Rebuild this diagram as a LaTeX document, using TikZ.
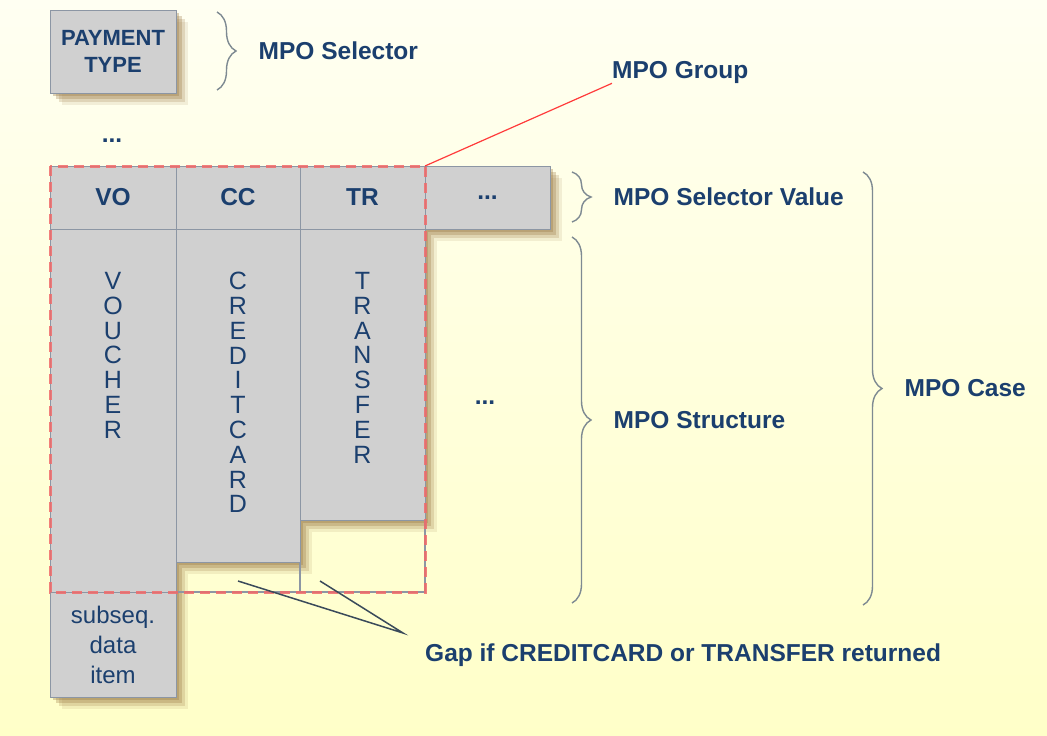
\documentclass[tikz,border=0pt]{standalone}
\usepackage{fontspec}
\setmainfont{Liberation Sans}
\usetikzlibrary{positioning,decorations.pathreplacing,shadows}
\definecolor{mpotext}{HTML}{1B3F6E}
\definecolor{cellgray}{HTML}{D0D0D0}
\definecolor{celledge}{HTML}{8C96A4}
\definecolor{bracegray}{HTML}{7E8A92}
\definecolor{groupred}{HTML}{F06A6A}
\definecolor{linkred}{HTML}{FF3B3B}
\definecolor{gapslate}{HTML}{3A4A5A}
\definecolor{bgtop}{HTML}{FFFFF2}
\definecolor{bgbottom}{HTML}{FFFFC8}
\definecolor{shadowtan}{HTML}{9C7A45}

\tikzset{
  softshadow/.style={
    drop shadow={shadow xshift=3pt, shadow yshift=-3pt, fill=shadowtan, opacity=.35},
    drop shadow={shadow xshift=6pt, shadow yshift=-6pt, fill=shadowtan, opacity=.3},
    drop shadow={shadow xshift=9pt, shadow yshift=-9pt, fill=shadowtan, opacity=.22},
    drop shadow={shadow xshift=12pt, shadow yshift=-12pt, fill=shadowtan, opacity=.12}},
  cell/.style={draw=celledge, line width=0.8pt, fill=cellgray, anchor=north west,
    inner sep=0pt, outer sep=0pt, text=mpotext, align=center,
    font=\fontsize{24.5}{28}\selectfont\bfseries, softshadow},
  vword/.style={inner sep=0pt, text=mpotext, align=center, font=\fontsize{25}{24.8}\selectfont},
  mpolabel/.style={inner sep=0pt, anchor=west, text=mpotext, font=\fontsize{24.5}{28}\selectfont\bfseries},
  brace/.style={decorate, decoration={brace, amplitude=19pt}, draw=bracegray, line width=1.4pt},
  bracetext/.style={mpolabel, midway, xshift=41pt},
  groupline/.style={draw=groupred, line width=3pt, dash pattern=on 10pt off 6pt, opacity=.85}
}

\begin{document}
\begin{tikzpicture}[x=1pt, y=-1pt]
  \shade[top color=bgtop, bottom color=bgbottom] (0,0) rectangle (1047,736);

  % selector field
  \node[cell, minimum width=126pt, minimum height=83pt,
        font=\fontsize{22}{27}\selectfont\bfseries] (pay) at (50,10) {PAYMENT\\TYPE};
  \node[mpolabel, anchor=center] (dotsup) at (112,141) {...};

  % selector values
  \node[cell, minimum width=126pt, minimum height=63pt] (vo) at (50,166) {VO};
  \node[cell, minimum width=124pt, minimum height=63pt, right=0pt of vo] (cc) {CC};
  \node[cell, minimum width=125pt, minimum height=63pt, right=0pt of cc] (tr) {TR};
  \node[cell, minimum width=125pt, minimum height=63pt, right=0pt of tr] (more) {...};

  % structures
  \node[cell, minimum width=126pt, minimum height=363pt, below=0pt of vo] (voucher) {};
  \node[cell, minimum width=124pt, minimum height=333pt, below=0pt of cc] (creditcard) {};
  \node[cell, minimum width=125pt, minimum height=291pt, below=0pt of tr] (transfer) {};
  \node[cell, minimum width=126pt, minimum height=105pt, below=0pt of voucher,
        font=\fontsize{24}{30}\selectfont] (subseq) {subseq.\\data\\item};

  \node[vword, below=43pt of voucher.north] (vtext) {V\\O\\U\\C\\H\\E\\R};
  \node[vword, below=43pt of creditcard.north] (ctext) {C\\R\\E\\D\\I\\T\\C\\A\\R\\D};
  \node[vword, below=43pt of transfer.north] (ttext) {T\\R\\A\\N\\S\\F\\E\\R};
  \node[mpolabel, anchor=center] (dotsmid) at (485,403) {...};

  % gap outline and group
  \draw[celledge, line width=1.5pt] (creditcard.south east) -- (creditcard.south east |- voucher.south);
  \draw[celledge, line width=1.5pt] (voucher.south east) -- (voucher.south -| transfer.east) -- (transfer.south east);
  \draw[groupline] (vo.north west) rectangle (voucher.south -| tr.east);

  \node[mpolabel] (group) at (612,72) {MPO Group};
  \draw[linkred, line width=1.2pt] (tr.north east) -- (group.south west);

  % braces
  \draw[brace] (217,12) -- (217,90) node[bracetext] (selector) {MPO Selector};
  \draw[brace] (572,172) -- (572,222) node[bracetext] (selval) {MPO Selector Value};
  \draw[brace] (572,237) -- (572,603) node[bracetext] (structure) {MPO Structure};
  \draw[brace] (863,172) -- (863,605) node[bracetext] (case) {MPO Case};

  % gap note
  \node[mpolabel] (gap) at (425,655) {Gap if CREDITCARD or TRANSFER returned};
  \coordinate (gapcc) at (238,581);
  \coordinate (gaptr) at (320,581);
  \coordinate (gaptip) at (403,633);
  \draw[gapslate, line width=1.5pt] (gapcc) -- (gaptip) -- (gaptr);
\end{tikzpicture}
\end{document}
